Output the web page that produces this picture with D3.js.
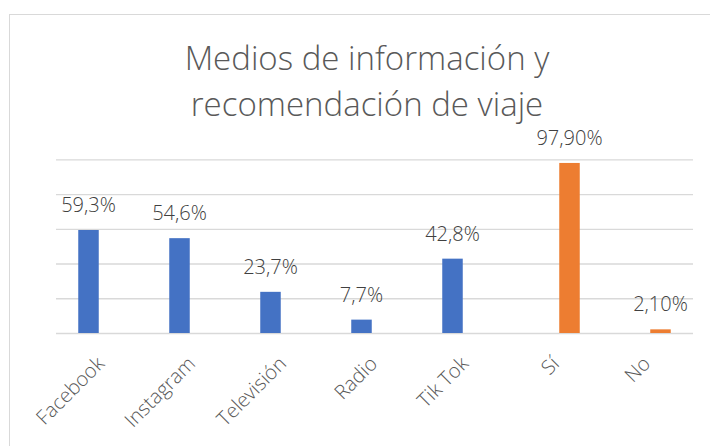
<!DOCTYPE html>
<html>
<head>
<meta charset="utf-8">
<script src="https://cdn.jsdelivr.net/npm/d3@7"></script>
<style>
  body { margin: 0; background: #fff; }
  text { font-family: "Open Sans", "Noto Sans", sans-serif; }
</style>
</head>
<body>
<div id="chart"></div>
<script>
// chart data
var categories = ["Facebook", "Instagram", "Televisión", "Radio", "Tik Tok", "Sí", "No"];
var seriesNames = ["medios", "recomendacion"];
var mediosValues = [59.3, 54.6, 23.7, 7.7, 42.8, null, null];
var recomValues = [null, null, null, null, null, 97.9, 2.1];
var yTicks = [0, 20, 40, 60, 80, 100];
var titleLines = ["Medios de información y", "recomendación de viaje"];

var w = 710, h = 446;
var plotLeft = 56, plotRight = 693, plotTop = 159.3, plotBottom = 333;
var colors = {medios: "#4472C4", recomendacion: "#ED7D31"};

var svg = d3.select("#chart").append("svg")
    .attr("width", w)
    .attr("height", h);

// chart area border
svg.append("rect")
    .attr("x", 9.5).attr("y", 14.5)
    .attr("width", 720).attr("height", 450)
    .attr("fill", "none")
    .attr("stroke", "#d9d9d9");

// title
svg.append("text")
    .attr("text-anchor", "middle")
    .attr("fill", "#595959")
    .attr("font-size", "33px")
    .attr("font-weight", 300)
    .selectAll("tspan")
    .data(titleLines)
    .enter()
    .append("tspan")
    .attr("x", 367)
    .attr("y", function(d, i) { return 70 + i * 46; })
    .text(function(d) { return d; });

var x0 = d3.scaleBand()
    .domain(categories)
    .range([plotLeft, plotRight]);

var bw = x0.bandwidth();
var x1 = d3.scaleBand()
    .domain(seriesNames)
    .range([bw / 2 - 23.25, bw / 2 + 23.25])
    .paddingInner(0.2115);

var y = d3.scaleLinear()
    .domain([0, 100])
    .range([plotBottom, plotTop]);

// gridlines
var grid = svg.append("g")
    .attr("transform", "translate(" + plotLeft + ",0)")
    .call(d3.axisLeft(y).tickValues(yTicks).tickSize(-(plotRight - plotLeft)).tickFormat(""));
grid.select(".domain").remove();
grid.selectAll("line").attr("stroke", "#d9d9d9").attr("stroke-width", 1.3);

// build rows for bars
var rows = [];
categories.forEach(function(c, i) {
    if (mediosValues[i] != null) rows.push({cat: c, s: "medios", v: mediosValues[i], label: d3.format(".1f")(mediosValues[i]).replace(".", ",") + "%"});
    if (recomValues[i] != null) rows.push({cat: c, s: "recomendacion", v: recomValues[i], label: d3.format(".2f")(recomValues[i]).replace(".", ",") + "%"});
});

// bars
svg.selectAll("rect.bar")
    .data(rows)
    .enter()
    .append("rect")
    .attr("class", "bar")
    .attr("x", function(d) { return x0(d.cat) + x1(d.s); })
    .attr("y", function(d) { return y(d.v); })
    .attr("width", x1.bandwidth())
    .attr("height", function(d) { return plotBottom - y(d.v); })
    .attr("fill", function(d) { return colors[d.s]; });

// data labels
svg.selectAll("text.lbl")
    .data(rows)
    .enter()
    .append("text")
    .attr("class", "lbl")
    .attr("x", function(d) { return x0(d.cat) + x1(d.s) + x1.bandwidth() / 2; })
    .attr("y", function(d) { return y(d.v) - 18; })
    .attr("text-anchor", "middle")
    .attr("fill", "#404040")
    .attr("font-size", "20px")
    .attr("font-weight", 300)
    .text(function(d) { return d.label; });

// x axis, rotated labels
var xAxis = svg.append("g")
    .attr("transform", "translate(0," + plotBottom + ")")
    .call(d3.axisBottom(x0).tickSize(0).tickPadding(0));
xAxis.select(".domain").remove();
xAxis.attr("font-family", null).attr("font-size", null);
xAxis.selectAll("text")
    .attr("font-size", "20px")
    .attr("font-weight", 300)
    .attr("fill", "#595959")
    .attr("text-anchor", "end")
    .attr("dy", null)
    .attr("y", 0)
    .attr("transform", "translate(4,32) rotate(-45)");
</script>
</body>
</html>
